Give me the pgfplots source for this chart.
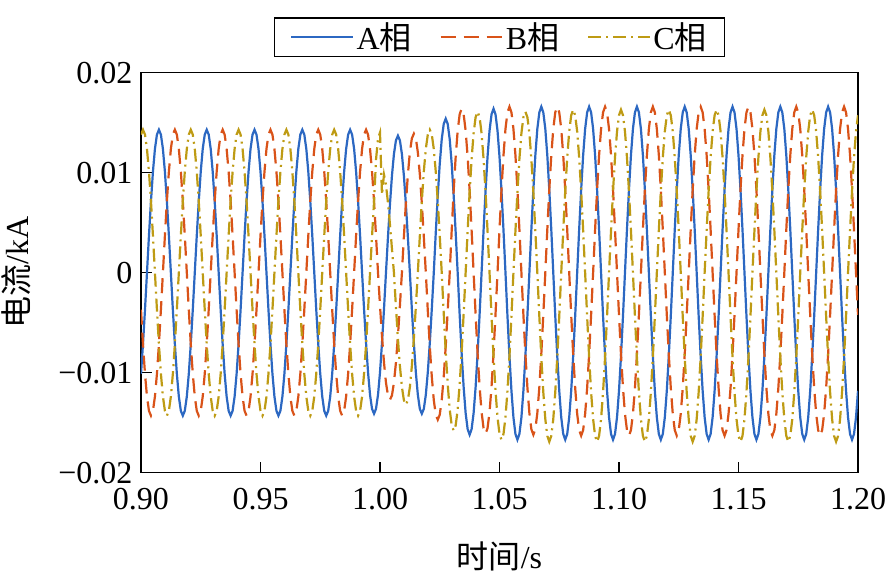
\documentclass[border=0pt]{standalone}
\usepackage{pgfplots}
\pgfplotsset{compat=1.18}
\usepackage{pgfplotstable}
\usepackage{fontspec}
\setmainfont{Liberation Serif}
\newfontfamily\cjk{Noto Sans CJK SC}
\definecolor{cA}{RGB}{44,104,194}
\definecolor{cB}{RGB}{217,83,25}
\definecolor{cC}{RGB}{190,155,20}
\pgfplotstableread{
t A B C
0.9 -0.01011 -0.0037 0.01381
0.90083 -0.00715 -0.00715 0.0143
0.90167 -0.0037 -0.01011 0.01381
0.9025 0 -0.01238 0.01238
0.90333 0.0037 -0.01381 0.01011
0.90417 0.00715 -0.0143 0.00715
0.905 0.01011 -0.01381 0.0037
0.90583 0.01238 -0.01238 0
0.90667 0.01381 -0.01011 -0.0037
0.9075 0.0143 -0.00715 -0.00715
0.90833 0.01381 -0.0037 -0.01011
0.90917 0.01238 0 -0.01238
0.91 0.01011 0.0037 -0.01381
0.91083 0.00715 0.00715 -0.0143
0.91167 0.0037 0.01011 -0.01381
0.9125 0 0.01238 -0.01238
0.91333 -0.0037 0.01381 -0.01011
0.91417 -0.00715 0.0143 -0.00715
0.915 -0.01011 0.01381 -0.0037
0.91583 -0.01238 0.01238 0
0.91667 -0.01381 0.01011 0.0037
0.9175 -0.0143 0.00715 0.00715
0.91833 -0.01381 0.0037 0.01011
0.91917 -0.01238 0 0.01238
0.92 -0.01011 -0.0037 0.01381
0.92083 -0.00715 -0.00715 0.0143
0.92167 -0.0037 -0.01011 0.01381
0.9225 0 -0.01238 0.01238
0.92333 0.0037 -0.01381 0.01011
0.92417 0.00715 -0.0143 0.00715
0.925 0.01011 -0.01381 0.0037
0.92583 0.01238 -0.01238 0
0.92667 0.01381 -0.01011 -0.0037
0.9275 0.0143 -0.00715 -0.00715
0.92833 0.01381 -0.0037 -0.01011
0.92917 0.01238 0 -0.01238
0.93 0.01011 0.0037 -0.01381
0.93083 0.00715 0.00715 -0.0143
0.93167 0.0037 0.01011 -0.01381
0.9325 0 0.01238 -0.01238
0.93333 -0.0037 0.01381 -0.01011
0.93417 -0.00715 0.0143 -0.00715
0.935 -0.01011 0.01381 -0.0037
0.93583 -0.01238 0.01238 0
0.93667 -0.01381 0.01011 0.0037
0.9375 -0.0143 0.00715 0.00715
0.93833 -0.01381 0.0037 0.01011
0.93917 -0.01238 0 0.01238
0.94 -0.01011 -0.0037 0.01381
0.94083 -0.00715 -0.00715 0.0143
0.94167 -0.0037 -0.01011 0.01381
0.9425 0 -0.01238 0.01238
0.94333 0.0037 -0.01381 0.01011
0.94417 0.00715 -0.0143 0.00715
0.945 0.01011 -0.01381 0.0037
0.94583 0.01238 -0.01238 0
0.94667 0.01381 -0.01011 -0.0037
0.9475 0.0143 -0.00715 -0.00715
0.94833 0.01381 -0.0037 -0.01011
0.94917 0.01238 0 -0.01238
0.95 0.01011 0.0037 -0.01381
0.95083 0.00715 0.00715 -0.0143
0.95167 0.0037 0.01011 -0.01381
0.9525 0 0.01238 -0.01238
0.95333 -0.0037 0.01381 -0.01011
0.95417 -0.00715 0.0143 -0.00715
0.955 -0.01011 0.01381 -0.0037
0.95583 -0.01238 0.01238 0
0.95667 -0.01381 0.01011 0.0037
0.9575 -0.0143 0.00715 0.00715
0.95833 -0.01381 0.0037 0.01011
0.95917 -0.01238 0 0.01238
0.96 -0.01011 -0.0037 0.01381
0.96083 -0.00715 -0.00715 0.0143
0.96167 -0.0037 -0.01011 0.01381
0.9625 0 -0.01238 0.01238
0.96333 0.0037 -0.01381 0.01011
0.96417 0.00715 -0.0143 0.00715
0.965 0.01011 -0.01381 0.0037
0.96583 0.01238 -0.01238 0
0.96667 0.01381 -0.01011 -0.0037
0.9675 0.0143 -0.00715 -0.00715
0.96833 0.01381 -0.0037 -0.01011
0.96917 0.01238 0 -0.01238
0.97 0.01011 0.0037 -0.01381
0.97083 0.00715 0.00715 -0.0143
0.97167 0.0037 0.01011 -0.01381
0.9725 0 0.01238 -0.01238
0.97333 -0.0037 0.01381 -0.01011
0.97417 -0.00715 0.0143 -0.00715
0.975 -0.01011 0.01381 -0.0037
0.97583 -0.01238 0.01238 0
0.97667 -0.01381 0.01011 0.0037
0.9775 -0.0143 0.00715 0.00715
0.97833 -0.01381 0.0037 0.01011
0.97917 -0.01238 0 0.01238
0.98 -0.01011 -0.0037 0.01381
0.98083 -0.00715 -0.00715 0.0143
0.98167 -0.0037 -0.01011 0.01381
0.9825 0 -0.01238 0.01238
0.98333 0.0037 -0.01381 0.01011
0.98417 0.00715 -0.0143 0.00715
0.985 0.01011 -0.01381 0.0037
0.98583 0.01238 -0.01238 0
0.98667 0.01381 -0.01011 -0.0037
0.9875 0.0143 -0.00715 -0.00715
0.98833 0.01381 -0.0037 -0.01011
0.98917 0.01238 0 -0.01238
0.99 0.01011 0.0037 -0.01381
0.99083 0.00715 0.00715 -0.0143
0.99167 0.0037 0.01011 -0.01381
0.9925 0 0.01238 -0.01238
0.99333 -0.00365 0.01381 -0.01011
0.99417 -0.00705 0.0143 -0.00715
0.995 -0.00997 0.01381 -0.0037
0.99583 -0.01221 0.01238 0
0.99667 -0.01362 0.01011 0.00365
0.9975 -0.0141 0.00715 0.00705
0.99833 -0.01362 0.0037 0.0113
0.99917 -0.01221 0 0.0134
1.0 -0.00997 -0.00329 0.0140
1.00083 -0.00705 -0.00635 0.0078
1.00167 -0.00365 -0.00898 0.0098
1.0025 0 -0.011 0.0088
1.00333 0.00355 -0.01227 0.0070
1.00417 0.00685 -0.0127 0.0048
1.005 0.00969 -0.01227 0.0024
1.00583 0.01186 -0.011 0
1.00667 0.01323 -0.00898 -0.00342
1.0075 0.0137 -0.00635 -0.0066
1.00833 0.01323 -0.00329 -0.00933
1.00917 0.01186 0 -0.01143
1.01 0.00969 0.0036 -0.01275
1.01083 0.00685 0.00695 -0.0132
1.01167 0.00355 0.00983 -0.01275
1.0125 0 0.01204 -0.01143
1.01333 -0.00365 0.01343 -0.00933
1.01417 -0.00705 0.0139 -0.0066
1.015 -0.00997 0.01343 -0.00342
1.01583 -0.01221 0.01204 0
1.01667 -0.01362 0.00983 0.0037
1.0175 -0.0141 0.00695 0.00715
1.01833 -0.01362 0.0036 0.01011
1.01917 -0.01221 0 0.01238
1.02 -0.00997 -0.0038 0.01381
1.02083 -0.00705 -0.00735 0.0143
1.02167 -0.00365 -0.01039 0.01381
1.0225 0 -0.01273 0.01238
1.02333 0.00399 -0.0142 0.01011
1.02417 0.0077 -0.0147 0.00715
1.025 0.01089 -0.0142 0.0037
1.02583 0.01334 -0.01273 0
1.02667 0.01488 -0.01039 -0.00409
1.0275 0.0154 -0.00735 -0.0079
1.02833 0.01488 -0.0038 -0.01117
1.02917 0.01334 0 -0.01368
1.03 0.01089 0.00424 -0.01526
1.03083 0.0077 0.0082 -0.0158
1.03167 0.00399 0.0116 -0.01526
1.0325 0 0.0142 -0.01368
1.03333 -0.00419 0.01584 -0.01117
1.03417 -0.0081 0.0164 -0.0079
1.035 -0.01146 0.01584 -0.00409
1.03583 -0.01403 0.0142 0
1.03667 -0.01565 0.0116 0.00417
1.0375 -0.0162 0.0082 0.00805
1.03833 -0.01565 0.00424 0.01138
1.03917 -0.01403 0 0.01394
1.04 -0.01146 -0.00417 0.01555
1.04083 -0.0081 -0.00805 0.0161
1.04167 -0.00419 -0.01138 0.01555
1.0425 0 -0.01394 0.01394
1.04333 0.00424 -0.01555 0.01138
1.04417 0.0082 -0.0161 0.00805
1.045 0.0116 -0.01555 0.00417
1.04583 0.0142 -0.01394 0
1.04667 0.01584 -0.01138 -0.00432
1.0475 0.0164 -0.00805 -0.00835
1.04833 0.01584 -0.00417 -0.01181
1.04917 0.0142 0 -0.01446
1.05 0.0116 0.0043 -0.01613
1.05083 0.0082 0.0083 -0.0167
1.05167 0.00424 0.01174 -0.01613
1.0525 0 0.01438 -0.01446
1.05333 -0.00432 0.01603 -0.01181
1.05417 -0.00835 0.0166 -0.00835
1.055 -0.01181 0.01603 -0.00432
1.05583 -0.01446 0.01438 0
1.05667 -0.01613 0.01174 0.00417
1.0575 -0.0167 0.0083 0.00805
1.05833 -0.01613 0.0043 0.01138
1.05917 -0.01446 0 0.01394
1.06 -0.01181 -0.00419 0.01555
1.06083 -0.00835 -0.0081 0.0161
1.06167 -0.00432 -0.01146 0.01555
1.0625 0 -0.01403 0.01394
1.06333 0.0043 -0.01565 0.01138
1.06417 0.0083 -0.0162 0.00805
1.065 0.01174 -0.01565 0.00417
1.06583 0.01438 -0.01403 0
1.06667 0.01603 -0.01146 -0.00437
1.0675 0.0166 -0.0081 -0.00845
1.06833 0.01603 -0.00419 -0.01195
1.06917 0.01438 0 -0.01464
1.07 0.01174 0.0043 -0.01632
1.07083 0.0083 0.0083 -0.0169
1.07167 0.0043 0.01174 -0.01632
1.0725 0 0.01438 -0.01464
1.07333 -0.00432 0.01603 -0.01195
1.07417 -0.00835 0.0166 -0.00845
1.075 -0.01181 0.01603 -0.00437
1.07583 -0.01446 0.01438 0
1.07667 -0.01613 0.01174 0.00422
1.0775 -0.0167 0.0083 0.00815
1.07833 -0.01613 0.0043 0.01153
1.07917 -0.01446 0 0.01412
1.08 -0.01181 -0.00422 0.01574
1.08083 -0.00835 -0.00815 0.0163
1.08167 -0.00432 -0.01153 0.01574
1.0825 0 -0.01412 0.01412
1.08333 0.0043 -0.01574 0.01153
1.08417 0.0083 -0.0163 0.00815
1.085 0.01174 -0.01574 0.00422
1.08583 0.01438 -0.01412 0
1.08667 0.01603 -0.01153 -0.00437
1.0875 0.0166 -0.00815 -0.00845
1.08833 0.01603 -0.00422 -0.01195
1.08917 0.01438 0 -0.01464
1.09 0.01174 0.0043 -0.01632
1.09083 0.0083 0.0083 -0.0169
1.09167 0.0043 0.01174 -0.01632
1.0925 0 0.01438 -0.01464
1.09333 -0.00432 0.01603 -0.01195
1.09417 -0.00835 0.0166 -0.00845
1.095 -0.01181 0.01603 -0.00437
1.09583 -0.01446 0.01438 0
1.09667 -0.01613 0.01174 0.00422
1.0975 -0.0167 0.0083 0.00815
1.09833 -0.01613 0.0043 0.01153
1.09917 -0.01446 0 0.01412
1.1 -0.01181 -0.00422 0.01574
1.10083 -0.00835 -0.00815 0.0163
1.10167 -0.00432 -0.01153 0.01574
1.1025 0 -0.01412 0.01412
1.10333 0.0043 -0.01574 0.01153
1.10417 0.0083 -0.0163 0.00815
1.105 0.01174 -0.01574 0.00422
1.10583 0.01438 -0.01412 0
1.10667 0.01603 -0.01153 -0.00437
1.1075 0.0166 -0.00815 -0.00845
1.10833 0.01603 -0.00422 -0.01195
1.10917 0.01438 0 -0.01464
1.11 0.01174 0.0043 -0.01632
1.11083 0.0083 0.0083 -0.0169
1.11167 0.0043 0.01174 -0.01632
1.1125 0 0.01438 -0.01464
1.11333 -0.00432 0.01603 -0.01195
1.11417 -0.00835 0.0166 -0.00845
1.115 -0.01181 0.01603 -0.00437
1.11583 -0.01446 0.01438 0
1.11667 -0.01613 0.01174 0.00422
1.1175 -0.0167 0.0083 0.00815
1.11833 -0.01613 0.0043 0.01153
1.11917 -0.01446 0 0.01412
1.12 -0.01181 -0.00422 0.01574
1.12083 -0.00835 -0.00815 0.0163
1.12167 -0.00432 -0.01153 0.01574
1.1225 0 -0.01412 0.01412
1.12333 0.0043 -0.01574 0.01153
1.12417 0.0083 -0.0163 0.00815
1.125 0.01174 -0.01574 0.00422
1.12583 0.01438 -0.01412 0
1.12667 0.01603 -0.01153 -0.00437
1.1275 0.0166 -0.00815 -0.00845
1.12833 0.01603 -0.00422 -0.01195
1.12917 0.01438 0 -0.01464
1.13 0.01174 0.0043 -0.01632
1.13083 0.0083 0.0083 -0.0169
1.13167 0.0043 0.01174 -0.01632
1.1325 0 0.01438 -0.01464
1.13333 -0.00432 0.01603 -0.01195
1.13417 -0.00835 0.0166 -0.00845
1.135 -0.01181 0.01603 -0.00437
1.13583 -0.01446 0.01438 0
1.13667 -0.01613 0.01174 0.00422
1.1375 -0.0167 0.0083 0.00815
1.13833 -0.01613 0.0043 0.01153
1.13917 -0.01446 0 0.01412
1.14 -0.01181 -0.00422 0.01574
1.14083 -0.00835 -0.00815 0.0163
1.14167 -0.00432 -0.01153 0.01574
1.1425 0 -0.01412 0.01412
1.14333 0.0043 -0.01574 0.01153
1.14417 0.0083 -0.0163 0.00815
1.145 0.01174 -0.01574 0.00422
1.14583 0.01438 -0.01412 0
1.14667 0.01603 -0.01153 -0.00437
1.1475 0.0166 -0.00815 -0.00845
1.14833 0.01603 -0.00422 -0.01195
1.14917 0.01438 0 -0.01464
1.15 0.01174 0.0043 -0.01632
1.15083 0.0083 0.0083 -0.0169
1.15167 0.0043 0.01174 -0.01632
1.1525 0 0.01438 -0.01464
1.15333 -0.00432 0.01603 -0.01195
1.15417 -0.00835 0.0166 -0.00845
1.155 -0.01181 0.01603 -0.00437
1.15583 -0.01446 0.01438 0
1.15667 -0.01613 0.01174 0.00422
1.1575 -0.0167 0.0083 0.00815
1.15833 -0.01613 0.0043 0.01153
1.15917 -0.01446 0 0.01412
1.16 -0.01181 -0.00422 0.01574
1.16083 -0.00835 -0.00815 0.0163
1.16167 -0.00432 -0.01153 0.01574
1.1625 0 -0.01412 0.01412
1.16333 0.0043 -0.01574 0.01153
1.16417 0.0083 -0.0163 0.00815
1.165 0.01174 -0.01574 0.00422
1.16583 0.01438 -0.01412 0
1.16667 0.01603 -0.01153 -0.00437
1.1675 0.0166 -0.00815 -0.00845
1.16833 0.01603 -0.00422 -0.01195
1.16917 0.01438 0 -0.01464
1.17 0.01174 0.0043 -0.01632
1.17083 0.0083 0.0083 -0.0169
1.17167 0.0043 0.01174 -0.01632
1.1725 0 0.01438 -0.01464
1.17333 -0.00432 0.01603 -0.01195
1.17417 -0.00835 0.0166 -0.00845
1.175 -0.01181 0.01603 -0.00437
1.17583 -0.01446 0.01438 0
1.17667 -0.01613 0.01174 0.00422
1.1775 -0.0167 0.0083 0.00815
1.17833 -0.01613 0.0043 0.01153
1.17917 -0.01446 0 0.01412
1.18 -0.01181 -0.00422 0.01574
1.18083 -0.00835 -0.00815 0.0163
1.18167 -0.00432 -0.01153 0.01574
1.1825 0 -0.01412 0.01412
1.18333 0.0043 -0.01574 0.01153
1.18417 0.0083 -0.0163 0.00815
1.185 0.01174 -0.01574 0.00422
1.18583 0.01438 -0.01412 0
1.18667 0.01603 -0.01153 -0.00437
1.1875 0.0166 -0.00815 -0.00845
1.18833 0.01603 -0.00422 -0.01195
1.18917 0.01438 0 -0.01464
1.19 0.01174 0.0043 -0.01632
1.19083 0.0083 0.0083 -0.0169
1.19167 0.0043 0.01174 -0.01632
1.1925 0 0.01438 -0.01464
1.19333 -0.00432 0.01603 -0.01195
1.19417 -0.00835 0.0166 -0.00845
1.195 -0.01181 0.01603 -0.00437
1.19583 -0.01446 0.01438 0
1.19667 -0.01613 0.01174 0.00422
1.1975 -0.0167 0.0083 0.00815
1.19833 -0.01613 0.0043 0.01153
1.19917 -0.01446 0 0.01412
1.2 -0.01181 -0.00422 0.01574
}\data
\begin{document}
\begin{tikzpicture}
\begin{axis}[name=ax, scale only axis, width=717bp, height=400bp,
  xmin=0.9, xmax=1.2, ymin=-0.02, ymax=0.02,
  scaled ticks=false,
  xtick={0.9,0.95,1,1.05,1.1,1.15,1.2},
  xticklabels={0.90,0.95,1.00,1.05,1.10,1.15,1.20},
  ytick={-0.02,-0.01,0,0.01,0.02},
  yticklabels={−0.02,−0.01,0,0.01,0.02},
  tick pos=left, tick align=inside, major tick length=11bp,
  tick style={line width=1.3bp, black},
  axis line style={line width=1.5bp},
  ticklabel style={font=\fontsize{32bp}{38bp}\selectfont},
  xticklabel style={yshift=-12bp},
  yticklabel style={xshift=-5bp},
  label style={font=\fontsize{32bp}{38bp}\selectfont},
  xlabel={{\cjk 时间}/s}, ylabel={{\cjk 电流}/kA},
  xlabel style={at={(axis description cs:0.5,-0.24)}, anchor=base},
  ylabel style={at={(axis description cs:-0.1562,0.5)}, anchor=base},
  legend columns=3, legend cell align=left,
  legend style={at={(0.5,1)}, anchor=south, yshift=15.7bp, draw=black, line width=1.2bp,
    font=\fontsize{32bp}{38bp}\selectfont, inner xsep=16bp, inner ysep=3bp,
    /tikz/every even column/.append style={column sep=26bp}},
  legend image code/.code={\draw[#1] (0bp,0bp) -- (62bp,0bp);},
]
\addplot[cA, line width=2.2bp] table[x=t, y=A] {\data};
\addlegendentry{A{\cjk 相}}
\addplot[cB, line width=2.2bp, dash pattern=on 15bp off 8bp] table[x=t, y=B] {\data};
\addlegendentry{B{\cjk 相}}
\addplot[cC, line width=2.2bp, dash pattern=on 13bp off 5bp on 2bp off 5bp] table[x=t, y=C] {\data};
\addlegendentry{C{\cjk 相}}
\end{axis}
\pgfresetboundingbox
\path ([shift={(-141bp,-103.3bp)}]ax.south west) rectangle ([shift={(27bp,72.7bp)}]ax.north east);
\end{tikzpicture}
\end{document}
